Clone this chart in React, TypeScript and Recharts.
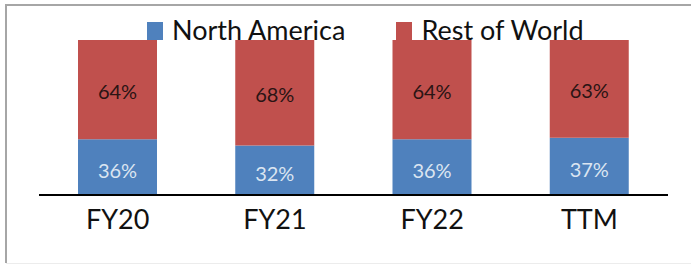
import { BarChart, Bar, XAxis, YAxis, Legend, LabelList } from 'recharts';

const categories = ['FY20', 'FY21', 'FY22', 'TTM'];
const northAmerica = [36, 32, 36, 37];
const restOfWorld = [64, 68, 64, 63];

const BLUE = '#4f81bd';
const RED = '#c0504d';
const FONT = 'Lato, "Liberation Sans", sans-serif';

const data = categories.map((name, i) => ({
  name,
  na: northAmerica[i],
  row: restOfWorld[i],
}));

function CategoryTick(props: { x?: number; y?: number; payload?: { value: string } }) {
  const { x = 0, y = 0, payload } = props;
  if (!payload) return null;
  return (
    <text x={x} y={y} dy={34} textAnchor="middle" fill="#111" fontSize={27} fontFamily={FONT}>
      {payload.value}
    </text>
  );
}

function LegendBox() {
  const items = [
    { label: 'North America', color: BLUE },
    { label: 'Rest of World', color: RED },
  ];
  return (
    <div style={{ display: 'flex', fontFamily: FONT, fontSize: 27, lineHeight: '27px', color: '#111' }}>
      {items.map((it) => (
        <div key={it.label} style={{ display: 'flex', alignItems: 'flex-start', marginRight: 51 }}>
          <span
            style={{
              display: 'inline-block',
              width: 16,
              height: 18,
              marginTop: 6,
              marginRight: 9,
              backgroundColor: it.color,
            }}
          />
          <span style={{ whiteSpace: 'nowrap' }}>{it.label}</span>
        </div>
      ))}
    </div>
  );
}

export default function App() {
  return (
    <div style={{ position: 'absolute', left: 0, top: 0, width: 691, height: 271, background: '#fff' }}>
      <div style={{ position: 'absolute', left: 6, top: 4, width: 685, height: 2, background: '#a6a6a6' }} />
      <div style={{ position: 'absolute', left: 5, top: 4, width: 2, height: 259, background: '#a6a6a6' }} />
      <div style={{ position: 'absolute', left: 6, top: 263, width: 685, height: 1, background: '#ececec' }} />
      <BarChart
        width={691}
        height={271}
        data={data}
        margin={{ top: 40, right: 23, bottom: 26, left: 39 }}
        barSize={79}
      >
        <YAxis hide domain={[0, 100]} />
        <XAxis
          dataKey="name"
          height={50}
          axisLine={{ stroke: '#000', strokeWidth: 2 }}
          tickLine={false}
          tickSize={0}
          tickMargin={0}
          tick={<CategoryTick />}
          interval={0}
        />
        <Bar dataKey="na" name="North America" stackId="a" fill={BLUE} isAnimationActive={false}>
          <LabelList
            dataKey="na"
            position="center"
            formatter={(v: number) => `${v}%`}
            fill="#dbe5f1"
            fontSize={20}
            fontFamily={FONT}
            dy={4}
          />
        </Bar>
        <Bar dataKey="row" name="Rest of World" stackId="a" fill={RED} isAnimationActive={false}>
          <LabelList
            dataKey="row"
            position="center"
            formatter={(v: number) => `${v}%`}
            fill="#2a1414"
            fontSize={20}
            fontFamily={FONT}
            dy={2}
          />
        </Bar>
        <Legend
          verticalAlign="middle"
          align="center"
          layout="horizontal"
          content={<LegendBox />}
          wrapperStyle={{ top: 16, left: 147, width: 'auto' }}
        />
      </BarChart>
    </div>
  );
}
